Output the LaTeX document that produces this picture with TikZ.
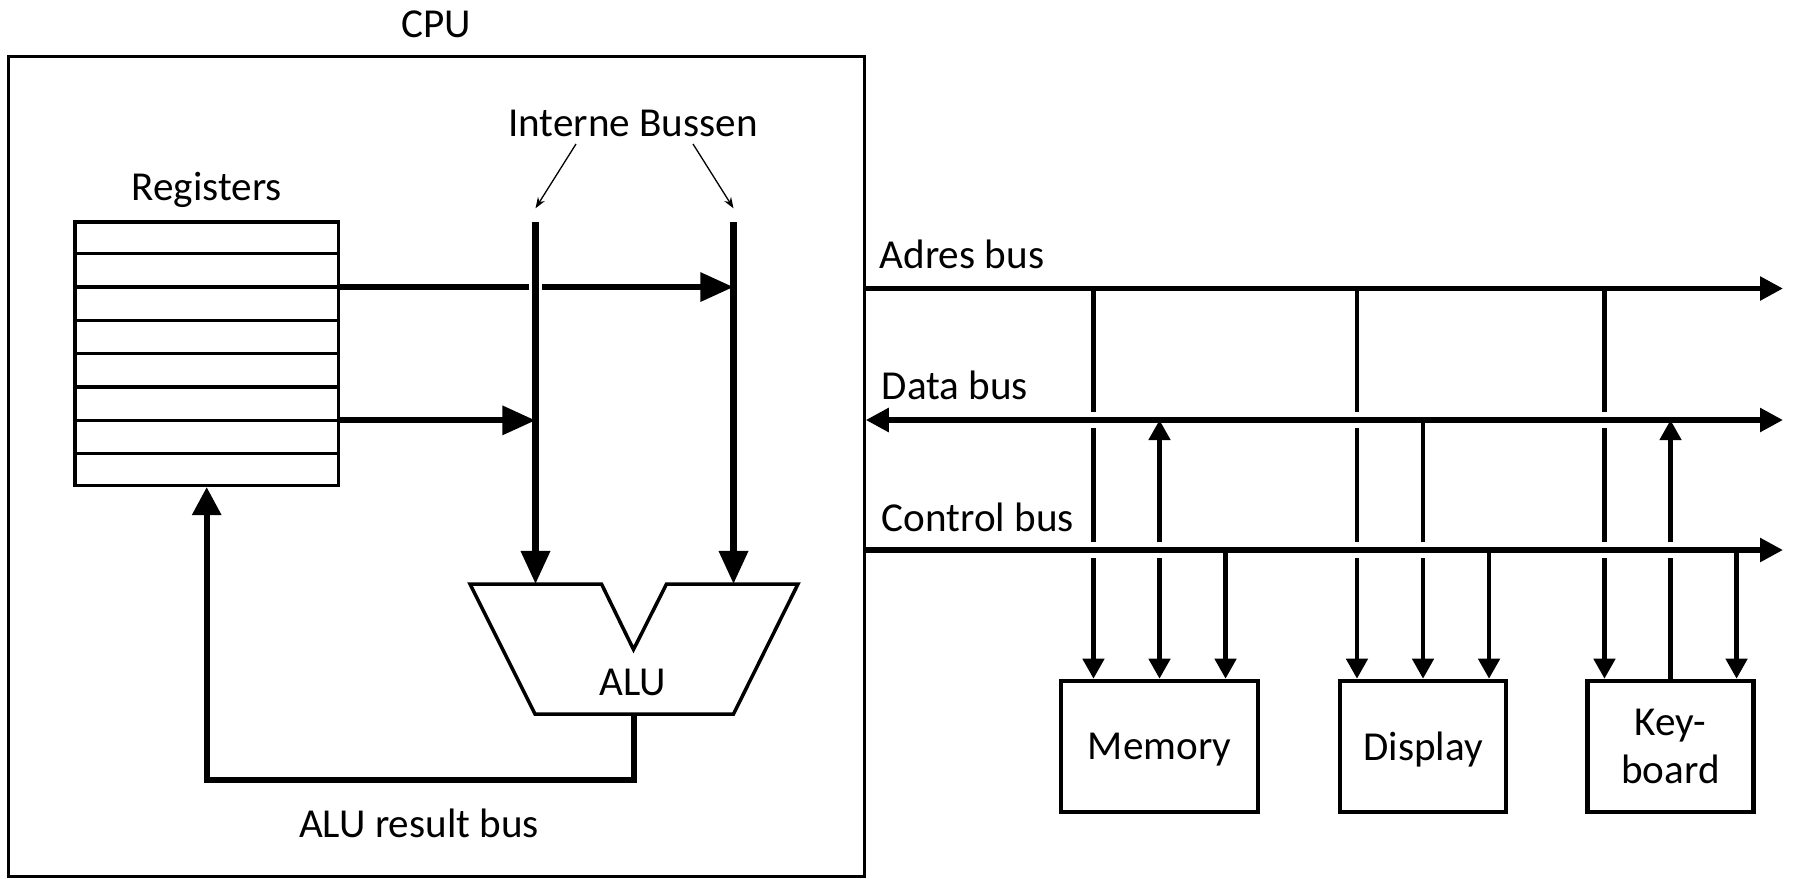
\documentclass[tikz,border=0pt]{standalone}
\usepackage{fontspec}
\setmainfont{Carlito}
\usetikzlibrary{arrows.meta, positioning, calc}

\begin{document}
\begin{tikzpicture}[
        x=0.01cm, y=-0.01cm,
        txt/.style={font=\fontsize{11.7pt}{13.6pt}\selectfont, inner sep=0pt, align=center},
        frame/.style={draw, line width=0.03cm, inner sep=0pt},
        regfile/.style={draw, line width=0.035cm, minimum width=2.63cm, minimum height=2.63cm, inner sep=0pt},
        regline/.style={line width=0.035cm},
        device/.style={draw, txt, line width=0.045cm, minimum width=1.66cm, minimum height=1.31cm, text depth=0pt},
        ibus/.style={line width=0.065cm, -itip},
        regbus/.style={line width=0.06cm, -itip},
        result/.style={line width=0.06cm, -rtip},
        bus/.style={line width=0.055cm},
        drop/.style={line width=0.045cm},
        halo/.style={draw=white, line width=0.16cm},
        pointer/.style={line width=0.013cm, -{Stealth[length=0.11cm, width=0.08cm]}},
        itip/.tip={Triangle[length=0.33cm, width=0.28cm]},
        rtip/.tip={Triangle[length=0.28cm, width=0.28cm]},
        btip/.tip={Triangle[length=0.23cm, width=0.23cm]},
        dtip/.tip={Triangle[length=0.2cm, width=0.21cm]}
    ]
    \useasboundingbox (0,0) rectangle (1795,878);

    % CPU frame and its title
    \node[frame, minimum width=8.55cm, minimum height=8.19cm] (cpu) at (436.5,466.5) {};
    \node[txt] (cpulbl) at (436,24) {CPU};

    % Register file, eight rows
    \node[regfile] (regs) at (206.7,353.7) {};
    \foreach \k in {1,...,7} {
        \draw[regline] ($(regs.north west)!\k/8!(regs.south west)$) -- ($(regs.north east)!\k/8!(regs.south east)$);
    }
    \node[txt] (reglbl) at ([yshift=0.3cm]regs.north) {Registers};
    \coordinate (r2) at ($(regs.north east)!2/8!(regs.south east)$);
    \coordinate (r6) at ($(regs.north east)!6/8!(regs.south east)$);

    % ALU corners
    \coordinate (alu-tl) at (470,584);
    \coordinate (alu-nl) at (601.5,584);
    \coordinate (alu-v) at (633.5,649.5);
    \coordinate (alu-nr) at (666.5,584);
    \coordinate (alu-tr) at (798,584);
    \coordinate (alu-br) at (733.5,714);
    \coordinate (alu-bl) at (535,714);
    \coordinate (alu-out) at (633.5,714);
    \node[txt] (alu) at (633,682) {ALU};

    % Internal buses
    \coordinate (ib1) at (535.5,222.3);
    \coordinate (ib2) at (733.5,222.3);
    \node[txt] (ibl) at (633,123) {Interne Bussen};
    \draw[pointer] ([xshift=-0.57cm, yshift=-0.21cm]ibl.center) -- ([yshift=0.14cm]ib1);
    \draw[pointer] ([xshift=0.6cm, yshift=-0.21cm]ibl.center) -- ([yshift=0.14cm]ib2);

    \draw[regbus] (r2) -- (ib2 |- r2);
    \draw[halo, line width=0.13cm] (ib1) -- (ib1 |- alu-tl);
    \draw[ibus] (ib1) -- (ib1 |- alu-tl);
    \draw[ibus] (ib2) -- (ib2 |- alu-tl);
    \draw[regbus] (r6) -- (ib1 |- r6);

    \draw[line width=0.035cm] (alu-tl) -- (alu-nl) -- (alu-v) -- (alu-nr) -- (alu-tr) -- (alu-br) -- (alu-bl) -- cycle;

    % Result back into the registers
    \draw[result] (alu-out) -- ++(0,66) -| (regs.south);
    \node[txt] (reslbl) at (419,823) {ALU result bus};

    % System buses
    \coordinate (adrEnd) at (1783,288.5);
    \coordinate (datEnd) at (1783,420);
    \coordinate (ctlEnd) at (1783,550);
    \node[txt, anchor=west] (adrlbl) at (879,254) {Adres bus};
    \node[txt, anchor=west] (datlbl) at (881,385) {Data bus};
    \node[txt, anchor=west] (ctllbl) at (881,517) {Control bus};

    % Devices
    \node[device, minimum width=1.97cm] (mem) at (1159.5,746.5) {Memory};
    \node[device] (disp) at (1423,746.5) {Display};
    \node[device] (kbd) at (1670.5,746.5) {Key-\\board};

    % address lines run down to every device
    \foreach \dev in {mem, disp, kbd} {
        \coordinate (\dev-a) at ([xshift=-0.66cm]\dev.north);
        \coordinate (\dev-d) at (\dev.north);
        \coordinate (\dev-c) at ([xshift=0.66cm]\dev.north);
        \draw[drop, -dtip] (\dev-a |- adrEnd) -- (\dev-a);
    }
    \draw[bus, -btip] (cpu.east |- adrEnd) -- (adrEnd);

    % data bus, both ways
    \draw[halo, shorten <=0.15cm] (cpu.east |- datEnd) -- (datEnd);
    \draw[bus, btip-btip] (cpu.east |- datEnd) -- (datEnd);
    \foreach \dev/\tips in {mem/dtip-dtip, disp/-dtip, kbd/dtip-} {
        \draw[drop, \tips] (\dev-d |- datEnd) -- (\dev-d);
    }

    % control bus
    \draw[halo, shorten <=0.15cm] (cpu.east |- ctlEnd) -- (ctlEnd);
    \draw[bus, -btip] (cpu.east |- ctlEnd) -- (ctlEnd);
    \foreach \dev in {mem, disp, kbd} {
        \draw[drop, -dtip] (\dev-c |- ctlEnd) -- (\dev-c);
    }
\end{tikzpicture}
\end{document}
